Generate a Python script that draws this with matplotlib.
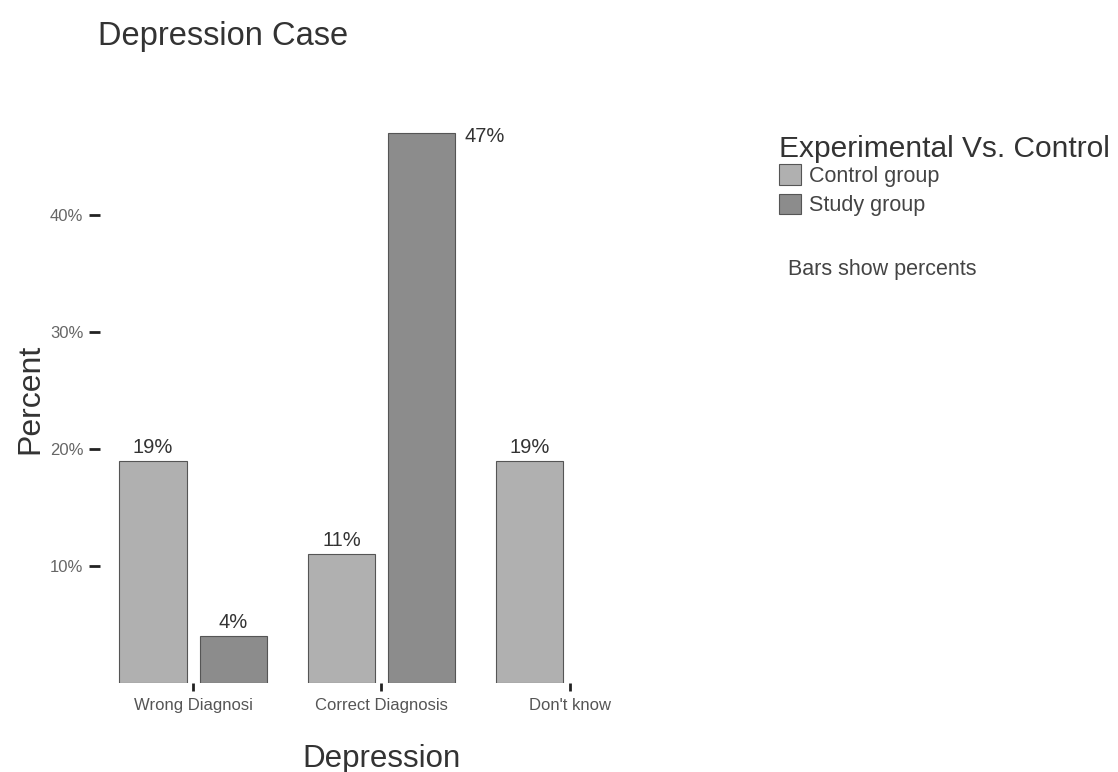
import numpy as np
import matplotlib
matplotlib.use('Agg')
import matplotlib.pyplot as plt

plt.rcParams['font.family'] = ['Liberation Sans', 'DejaVu Sans']

# Datos
categorias = ['Wrong Diagnosi', 'Correct Diagnosis', "Don't know"]
grupos = ['Control group', 'Study group']
control = [19, 11, 19]
estudio = [4, 47, 0]
colores = ['#b0b0b0', '#8c8c8c']

fig = plt.figure(figsize=(11.18, 7.72), dpi=100)
ax = fig.add_axes([0.0894, 0.115, 0.5045, 0.758])

x = np.arange(len(categorias))
ancho = 0.357
desp = 0.213

for serie, valores, color, d in [(grupos[0], control, colores[0], -desp),
                                 (grupos[1], estudio, colores[1], desp)]:
    for xi, v in zip(x, valores):
        if v <= 0:
            continue
        ax.bar(xi + d, v, width=ancho, color=color, edgecolor='#555555', linewidth=0.8,
               label=serie if xi == 0 else None)
        if v > 40:
            # no cabe encima, va a la derecha de la barra
            ax.annotate(f'{v}%', (xi + d + ancho / 2, v), xytext=(9, -3),
                        textcoords='offset pixels', ha='left', va='center',
                        fontsize=14.5, color='#333333')
        else:
            ax.annotate(f'{v}%', (xi + d, v), xytext=(0, 3), textcoords='offset points',
                        ha='center', va='bottom', fontsize=14.5, color='#333333')

ax.set_xlim(-0.495, 2.5)
ax.set_ylim(0, 50)
ax.set_xticks(x)
ax.set_xticklabels(categorias, fontsize=12, color='#555555')
ax.set_yticks([10, 20, 30, 40])
ax.set_yticklabels(['10%', '20%', '30%', '40%'], fontsize=12, color='#666666')
ax.tick_params(axis='x', length=6, width=2, color='#222222', pad=5)
ax.tick_params(axis='y', length=8, width=2, color='#222222', pad=4)
for s in ax.spines.values():
    s.set_visible(False)

ax.set_xlabel('Depression', fontsize=22.5, color='#333333')
ax.xaxis.set_label_coords(0.5, -(760 - 684) / 585)
ax.xaxis.label.set_va('center')
ax.set_ylabel('Percent', fontsize=23, color='#333333')
ax.yaxis.set_label_coords(-(100 - 30) / 564, (684 - 400) / 585)
ax.yaxis.label.set_va('center')

fig.text(98 / 1118, 1 - 36 / 772, 'Depression Case', fontsize=23.5, color='#333333',
         ha='left', va='center')

leg = ax.legend(title='Experimental Vs. Control', loc='upper left',
                bbox_to_anchor=(764 / 1118, 1 - 120 / 772), bbox_transform=fig.transFigure,
                frameon=False, fontsize=15.5, title_fontsize=21.5,
                handlelength=1.0, handleheight=1.1, handletextpad=0.4,
                labelspacing=0.3, borderpad=0.2)
leg._legend_box.align = 'left'
leg._legend_box.sep = 1
for t in leg.get_texts():
    t.set_color('#444444')
leg.get_title().set_color('#333333')

fig.text(788 / 1118, 1 - 270 / 772, 'Bars show percents', fontsize=15.5, color='#444444',
         ha='left', va='center')

plt.savefig('out.png', dpi=100)
